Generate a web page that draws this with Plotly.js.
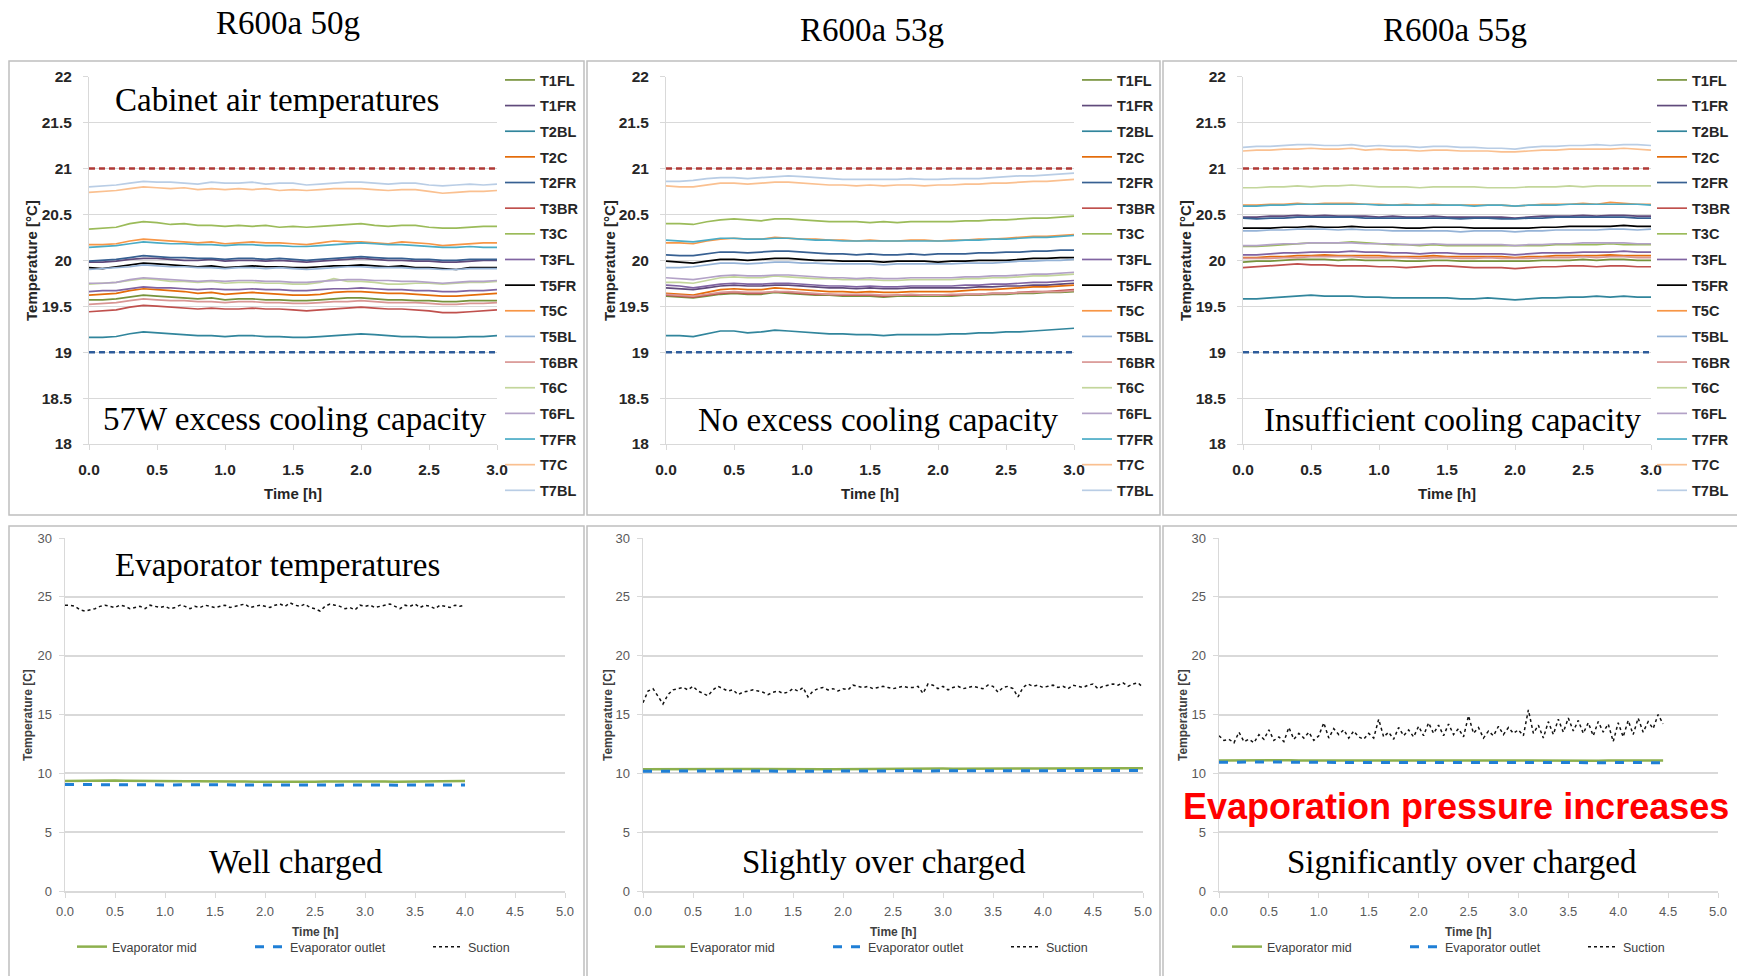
<!DOCTYPE html>
<html><head><meta charset="utf-8">
<script src="https://cdn.plot.ly/plotly-3.0.1.min.js"></script>
<style>html,body{margin:0;padding:0;background:#fff;overflow:hidden;width:1737px;height:976px}#wrap{width:1737px;height:976px;overflow:hidden;position:relative}#chart{width:1800px;height:976px}</style>
</head><body><div id="wrap"><div id="chart"></div></div>
<script>
// ---------- time grids ----------
const time01 = [0,0.1,0.2,0.3,0.4,0.5,0.6,0.7,0.8,0.9,1.0,1.1,1.2,1.3,1.4,1.5,1.6,1.7,1.8,1.9,2.0,2.1,2.2,2.3,2.4,2.5,2.6,2.7,2.8,2.9,3.0,3.1,3.2,3.3,3.4,3.5,3.6,3.7,3.8,3.9,4.0,4.1,4.2,4.3,4.4,4.5,4.6,4.7,4.8,4.9,5.0];
const time005 = [0,0.05,0.1,0.15,0.2,0.25,0.3,0.35,0.4,0.45,0.5,0.55,0.6,0.65,0.7,0.75,0.8,0.85,0.9,0.95,1.0,1.05,1.1,1.15,1.2,1.25,1.3,1.35,1.4,1.45,1.5,1.55,1.6,1.65,1.7,1.75,1.8,1.85,1.9,1.95,2.0,2.05,2.1,2.15,2.2,2.25,2.3,2.35,2.4,2.45,2.5,2.55,2.6,2.65,2.7,2.75,2.8,2.85,2.9,2.95,3.0,3.05,3.1,3.15,3.2,3.25,3.3,3.35,3.4,3.45,3.5,3.55,3.6,3.65,3.7,3.75,3.8,3.85,3.9,3.95,4.0,4.05,4.1,4.15,4.2,4.25,4.3,4.35,4.4,4.45,4.5,4.55,4.6,4.65,4.7,4.75,4.8,4.85,4.9,4.95,5.0];
const tTop = time01.slice(0,31);

// ---------- sensor names / colours ----------
const sensorNames = ['T1FL','T1FR','T2BL','T2C','T2FR','T3BR','T3C','T3FL','T5FR','T5C','T5BL','T6BR','T6C','T6FL','T7FR','T7C','T7BL'];
const sensorColors = ['#77933C','#604A7B','#31859C','#E46C0A','#376092','#C0504D','#9BBB59','#8064A2','#000000','#F79646','#95B3D7','#D99694','#C3D69B','#B3A2C7','#4BACC6','#FAC090','#B9CDE5'];

// ---------- R600a 50g cabinet air ----------
const p1_T1FL=[19.57,19.57,19.58,19.60,19.62,19.61,19.60,19.59,19.58,19.59,19.57,19.58,19.58,19.57,19.57,19.56,19.56,19.57,19.58,19.59,19.59,19.58,19.57,19.57,19.56,19.56,19.55,19.55,19.56,19.56,19.56];
const p1_T1FR=[19.98,19.98,19.99,20.01,20.02,20.02,20.01,20.00,20.00,20.01,19.99,20.00,20.00,19.99,20.00,19.99,19.98,19.99,20.00,20.01,20.02,20.01,20.00,20.00,19.99,19.99,19.98,19.98,19.99,20.00,20.00];
const p1_T2BL=[19.16,19.16,19.17,19.20,19.22,19.21,19.20,19.19,19.18,19.18,19.17,19.18,19.18,19.17,19.17,19.16,19.16,19.17,19.18,19.19,19.20,19.19,19.18,19.17,19.17,19.16,19.16,19.16,19.17,19.17,19.18];
const p1_T2C=[19.62,19.63,19.64,19.67,19.69,19.68,19.67,19.66,19.64,19.65,19.63,19.64,19.65,19.64,19.63,19.62,19.62,19.63,19.65,19.66,19.66,19.65,19.64,19.64,19.63,19.62,19.61,19.61,19.62,19.63,19.64];
const p1_T2FR=[19.99,20.00,20.01,20.03,20.05,20.04,20.03,20.03,20.02,20.02,20.01,20.02,20.02,20.01,20.02,20.01,20.00,20.01,20.02,20.03,20.04,20.03,20.02,20.02,20.01,20.01,20.00,20.00,20.01,20.01,20.01];
const p1_T3BR=[19.44,19.45,19.46,19.49,19.51,19.50,19.49,19.48,19.47,19.48,19.47,19.47,19.48,19.47,19.47,19.46,19.45,19.46,19.47,19.48,19.49,19.48,19.47,19.47,19.46,19.45,19.43,19.43,19.44,19.45,19.46];
const p1_T3C=[20.34,20.35,20.36,20.40,20.42,20.41,20.39,20.40,20.38,20.38,20.37,20.38,20.37,20.38,20.36,20.37,20.36,20.37,20.38,20.39,20.40,20.38,20.37,20.38,20.38,20.36,20.35,20.35,20.36,20.37,20.37];
const p1_T3FL=[19.66,19.67,19.67,19.69,19.71,19.70,19.70,19.69,19.68,19.69,19.68,19.68,19.69,19.68,19.68,19.67,19.67,19.68,19.69,19.69,19.70,19.69,19.68,19.68,19.67,19.67,19.66,19.66,19.67,19.67,19.68];
const p1_T5FR=[19.92,19.91,19.93,19.95,19.97,19.96,19.95,19.94,19.93,19.94,19.92,19.93,19.94,19.93,19.93,19.92,19.92,19.93,19.94,19.94,19.95,19.94,19.93,19.94,19.92,19.92,19.91,19.90,19.92,19.92,19.92];
const p1_T5C=[20.17,20.17,20.18,20.21,20.23,20.22,20.21,20.20,20.19,20.20,20.18,20.19,20.20,20.19,20.19,20.18,20.17,20.19,20.21,20.20,20.20,20.19,20.18,20.20,20.19,20.18,20.16,20.17,20.18,20.19,20.19];
const p1_T5BL=[19.90,19.91,19.92,19.93,19.95,19.94,19.93,19.93,19.92,19.92,19.91,19.92,19.92,19.91,19.92,19.91,19.90,19.91,19.92,19.93,19.93,19.92,19.92,19.92,19.91,19.91,19.90,19.90,19.91,19.91,19.91];
const p1_T6BR=[19.52,19.53,19.54,19.56,19.58,19.57,19.56,19.56,19.55,19.55,19.54,19.55,19.55,19.54,19.54,19.53,19.53,19.54,19.55,19.55,19.56,19.55,19.54,19.54,19.54,19.53,19.52,19.52,19.53,19.53,19.54];
const p1_T6C=[19.74,19.75,19.76,19.78,19.80,19.79,19.77,19.77,19.76,19.77,19.75,19.76,19.76,19.75,19.75,19.74,19.74,19.76,19.80,19.77,19.77,19.76,19.74,19.74,19.75,19.75,19.74,19.75,19.76,19.76,19.77];
const p1_T6FL=[19.75,19.75,19.76,19.79,19.81,19.80,19.79,19.78,19.77,19.78,19.77,19.78,19.78,19.77,19.77,19.76,19.76,19.77,19.78,19.79,19.79,19.78,19.78,19.77,19.77,19.76,19.75,19.76,19.77,19.77,19.78];
const p1_T7FR=[20.14,20.15,20.16,20.18,20.20,20.19,20.18,20.18,20.17,20.17,20.16,20.17,20.17,20.16,20.16,20.15,20.15,20.16,20.17,20.18,20.19,20.18,20.17,20.17,20.16,20.15,20.14,20.14,20.15,20.14,20.14];
const p1_T7C=[20.74,20.75,20.76,20.78,20.80,20.79,20.78,20.79,20.77,20.78,20.77,20.78,20.77,20.78,20.76,20.77,20.76,20.77,20.78,20.78,20.78,20.77,20.76,20.77,20.77,20.75,20.73,20.74,20.75,20.75,20.76];
const p1_T7BL=[20.80,20.81,20.82,20.84,20.86,20.85,20.85,20.84,20.83,20.85,20.84,20.84,20.85,20.83,20.84,20.84,20.82,20.83,20.84,20.85,20.85,20.84,20.83,20.84,20.84,20.82,20.81,20.82,20.83,20.82,20.83];

// ---------- R600a 53g cabinet air ----------
const p2_T1FL=[19.61,19.60,19.59,19.61,19.63,19.64,19.63,19.63,19.65,19.64,19.63,19.62,19.62,19.61,19.61,19.61,19.60,19.61,19.61,19.61,19.61,19.61,19.62,19.62,19.63,19.63,19.64,19.64,19.65,19.65,19.66];
const p2_T1FR=[19.70,19.69,19.68,19.70,19.72,19.73,19.72,19.72,19.73,19.73,19.72,19.71,19.70,19.70,19.69,19.70,19.69,19.69,19.70,19.70,19.70,19.70,19.70,19.71,19.71,19.72,19.72,19.73,19.73,19.74,19.75];
const p2_T2BL=[19.18,19.18,19.17,19.20,19.23,19.23,19.21,19.22,19.24,19.23,19.22,19.21,19.20,19.20,19.19,19.19,19.18,19.19,19.19,19.19,19.19,19.20,19.20,19.21,19.21,19.22,19.22,19.23,19.24,19.25,19.26];
const p2_T2C=[19.64,19.63,19.62,19.65,19.68,19.69,19.68,19.68,19.70,19.69,19.68,19.67,19.66,19.66,19.65,19.66,19.65,19.65,19.66,19.66,19.66,19.66,19.67,19.68,19.68,19.69,19.70,19.71,19.71,19.72,19.73];
const p2_T2FR=[20.06,20.05,20.05,20.07,20.09,20.09,20.08,20.09,20.10,20.10,20.09,20.08,20.07,20.07,20.06,20.07,20.06,20.06,20.07,20.06,20.07,20.07,20.07,20.08,20.08,20.09,20.09,20.10,20.10,20.11,20.11];
const p2_T3BR=[19.62,19.61,19.60,19.62,19.64,19.65,19.64,19.64,19.66,19.65,19.64,19.63,19.63,19.62,19.62,19.62,19.61,19.62,19.62,19.62,19.62,19.62,19.63,19.63,19.64,19.64,19.65,19.66,19.66,19.67,19.68];
const p2_T3C=[20.40,20.40,20.39,20.42,20.44,20.45,20.44,20.43,20.45,20.45,20.44,20.43,20.42,20.42,20.42,20.41,20.42,20.41,20.42,20.42,20.42,20.42,20.43,20.43,20.44,20.44,20.45,20.46,20.46,20.47,20.48];
const p2_T3FL=[19.73,19.72,19.70,19.72,19.74,19.75,19.74,19.74,19.75,19.75,19.74,19.73,19.72,19.72,19.71,19.72,19.71,19.71,19.72,19.72,19.72,19.72,19.73,19.73,19.74,19.74,19.75,19.76,19.76,19.77,19.78];
const p2_T5FR=[19.99,19.98,19.97,19.99,20.01,20.01,20.00,20.01,20.02,20.02,20.01,20.00,20.00,19.99,19.99,19.99,19.98,19.99,19.99,19.99,19.98,19.99,19.99,20.00,20.00,20.00,20.01,20.02,20.02,20.03,20.03];
const p2_T5C=[20.19,20.19,20.18,20.21,20.23,20.24,20.23,20.23,20.25,20.24,20.23,20.23,20.22,20.22,20.21,20.22,20.21,20.21,20.22,20.22,20.21,20.22,20.22,20.23,20.23,20.24,20.25,20.26,20.26,20.27,20.28];
const p2_T5BL=[19.92,19.92,19.93,19.95,19.97,19.97,19.96,19.97,19.98,19.98,19.97,19.97,19.96,19.96,19.96,19.96,19.95,19.96,19.96,19.96,19.96,19.96,19.97,19.97,19.97,19.98,19.99,19.99,20.00,20.00,20.01];
const p2_T6BR=[19.63,19.62,19.61,19.63,19.65,19.66,19.65,19.65,19.66,19.66,19.65,19.64,19.63,19.63,19.63,19.63,19.62,19.62,19.63,19.62,19.62,19.63,19.63,19.63,19.64,19.64,19.65,19.65,19.66,19.66,19.67];
const p2_T6C=[19.76,19.76,19.75,19.78,19.81,19.82,19.81,19.81,19.83,19.82,19.81,19.80,19.80,19.79,19.79,19.79,19.78,19.78,19.79,19.79,19.79,19.79,19.80,19.80,19.81,19.81,19.82,19.83,19.83,19.84,19.85];
const p2_T6FL=[19.81,19.80,19.79,19.81,19.83,19.84,19.83,19.83,19.84,19.84,19.83,19.82,19.81,19.81,19.80,19.81,19.80,19.80,19.81,19.81,19.81,19.81,19.82,19.82,19.83,19.83,19.84,19.85,19.85,19.86,19.87];
const p2_T7FR=[20.22,20.21,20.20,20.22,20.24,20.24,20.23,20.23,20.24,20.24,20.23,20.22,20.22,20.21,20.21,20.21,20.21,20.21,20.21,20.21,20.21,20.21,20.22,20.22,20.23,20.23,20.24,20.25,20.25,20.26,20.27];
const p2_T7C=[20.81,20.80,20.80,20.82,20.84,20.84,20.83,20.84,20.85,20.85,20.84,20.83,20.82,20.82,20.81,20.82,20.81,20.82,20.82,20.81,20.82,20.82,20.83,20.83,20.84,20.84,20.85,20.86,20.86,20.87,20.88];
const p2_T7BL=[20.86,20.86,20.87,20.89,20.90,20.90,20.89,20.90,20.91,20.92,20.91,20.90,20.89,20.88,20.88,20.88,20.88,20.88,20.89,20.88,20.88,20.89,20.89,20.89,20.90,20.91,20.92,20.92,20.93,20.94,20.95];

// ---------- R600a 55g cabinet air ----------
const p3_T1FL=[19.98,19.99,19.99,20.00,20.01,20.01,20.01,20.00,20.01,20.00,20.00,20.00,19.99,19.99,20.00,20.00,19.99,19.99,19.99,19.99,19.99,19.99,20.00,20.00,20.00,20.01,20.00,20.01,20.01,20.00,20.00];
const p3_T1FR=[20.47,20.47,20.48,20.48,20.49,20.48,20.49,20.48,20.48,20.48,20.47,20.48,20.47,20.47,20.48,20.47,20.47,20.47,20.47,20.47,20.46,20.47,20.48,20.48,20.48,20.49,20.48,20.49,20.49,20.48,20.48];
const p3_T2BL=[19.58,19.58,19.59,19.60,19.61,19.62,19.61,19.61,19.61,19.60,19.60,19.59,19.59,19.59,19.59,19.59,19.58,19.58,19.59,19.58,19.57,19.58,19.59,19.59,19.60,19.60,19.61,19.60,19.61,19.60,19.60];
const p3_T2C=[20.03,20.03,20.04,20.04,20.05,20.05,20.06,20.05,20.05,20.05,20.05,20.04,20.04,20.04,20.05,20.04,20.04,20.04,20.04,20.04,20.03,20.04,20.04,20.05,20.05,20.05,20.05,20.06,20.05,20.05,20.05];
const p3_T2FR=[20.46,20.45,20.46,20.46,20.47,20.47,20.47,20.47,20.47,20.46,20.46,20.46,20.46,20.46,20.46,20.46,20.45,20.46,20.46,20.45,20.45,20.46,20.46,20.47,20.47,20.47,20.47,20.47,20.47,20.46,20.46];
const p3_T3BR=[19.92,19.93,19.94,19.95,19.96,19.95,19.95,19.94,19.94,19.94,19.93,19.93,19.92,19.93,19.94,19.94,19.93,19.92,19.92,19.92,19.91,19.92,19.93,19.93,19.94,19.94,19.93,19.94,19.94,19.93,19.93];
const p3_T3C=[20.15,20.15,20.16,20.17,20.18,20.19,20.19,20.19,20.20,20.19,20.18,20.17,20.17,20.16,20.17,20.16,20.16,20.16,20.16,20.16,20.16,20.16,20.16,20.17,20.17,20.17,20.17,20.18,20.17,20.17,20.17];
const p3_T3FL=[20.06,20.06,20.07,20.08,20.08,20.09,20.09,20.09,20.10,20.09,20.09,20.08,20.08,20.07,20.08,20.08,20.07,20.07,20.07,20.07,20.06,20.07,20.08,20.08,20.08,20.09,20.09,20.09,20.10,20.09,20.09];
const p3_T5FR=[20.35,20.35,20.35,20.36,20.36,20.37,20.36,20.36,20.37,20.36,20.36,20.36,20.35,20.35,20.36,20.36,20.36,20.35,20.35,20.35,20.35,20.35,20.36,20.36,20.37,20.37,20.37,20.37,20.38,20.37,20.37];
const p3_T5C=[20.60,20.60,20.61,20.61,20.62,20.61,20.62,20.62,20.62,20.61,20.61,20.60,20.61,20.60,20.61,20.60,20.60,20.60,20.60,20.60,20.59,20.60,20.61,20.61,20.61,20.62,20.61,20.63,20.62,20.61,20.61];
const p3_T5BL=[20.32,20.32,20.33,20.33,20.34,20.34,20.34,20.33,20.34,20.33,20.33,20.32,20.32,20.32,20.32,20.32,20.31,20.32,20.32,20.32,20.31,20.32,20.32,20.33,20.33,20.33,20.33,20.34,20.34,20.33,20.34];
const p3_T6BR=[20.02,20.02,20.02,20.03,20.03,20.04,20.04,20.04,20.04,20.03,20.03,20.03,20.03,20.02,20.03,20.03,20.02,20.02,20.03,20.02,20.02,20.02,20.03,20.03,20.03,20.04,20.03,20.04,20.04,20.03,20.03];
const p3_T6C=[20.79,20.79,20.80,20.80,20.81,20.80,20.81,20.81,20.82,20.81,20.80,20.80,20.80,20.79,20.80,20.80,20.80,20.80,20.79,20.79,20.79,20.80,20.80,20.80,20.81,20.80,20.81,20.81,20.81,20.81,20.81];
const p3_T6FL=[20.16,20.16,20.17,20.18,20.18,20.19,20.19,20.19,20.19,20.18,20.18,20.18,20.17,20.17,20.18,20.17,20.17,20.17,20.17,20.17,20.16,20.17,20.17,20.18,20.18,20.19,20.19,20.19,20.19,20.18,20.18];
const p3_T7FR=[20.59,20.59,20.60,20.60,20.61,20.61,20.61,20.61,20.61,20.61,20.60,20.60,20.60,20.60,20.60,20.60,20.60,20.59,20.60,20.60,20.59,20.60,20.60,20.60,20.61,20.61,20.61,20.61,20.61,20.61,20.60];
const p3_T7C=[21.19,21.20,21.20,21.21,21.21,21.22,21.21,21.21,21.22,21.20,21.21,21.20,21.20,21.19,21.20,21.20,21.19,21.19,21.19,21.18,21.18,21.19,21.20,21.20,21.21,21.21,21.21,21.21,21.22,21.21,21.20];
const p3_T7BL=[21.23,21.24,21.24,21.25,21.26,21.26,21.25,21.25,21.26,21.24,21.25,21.24,21.24,21.23,21.24,21.24,21.23,21.23,21.22,21.22,21.21,21.23,21.24,21.24,21.25,21.25,21.26,21.25,21.26,21.26,21.25];

// ---------- set-point band ----------
const limitTime = [0, 3];
const limitHigh = [21, 21];
const limitLow = [19, 19];

// ---------- evaporator: well charged (50 g) ----------
const e1_mid=[9.35,9.37,9.38,9.40,9.42,9.40,9.38,9.36,9.35,9.33,9.34,9.33,9.32,9.33,9.34,9.32,9.30,9.31,9.30,9.29,9.30,9.31,9.32,9.30,9.29,9.28,9.30,9.31,9.30,9.30,9.31,9.32,9.30,9.29,9.30,9.31,9.30,9.29,9.30,9.31,9.35];
const e1_out=[9.05,9.06,9.07,9.05,9.06,9.04,9.03,9.05,9.04,9.03,9.02,9.03,9.04,9.02,9.01,9.02,9.03,9.01,9.00,9.01,9.02,9.01,9.00,9.01,9.02,9.00,8.99,9.00,9.01,9.00,9.01,9.02,9.00,8.99,9.00,9.01,9.00,8.99,9.00,9.00,9.02];
const e1_suc=[24.3,24.3,24.2,23.9,23.8,23.9,24.0,24.2,24.3,24.2,24.1,24.3,24.2,24.0,24.1,24.2,24.0,24.3,24.2,24.1,
24.2,24.0,24.1,24.3,24.2,24.0,24.2,24.1,24.3,24.2,24.1,24.2,24.3,24.1,24.2,24.3,24.4,24.1,24.2,24.3,
24.2,24.1,24.3,24.4,24.2,24.5,24.3,24.2,24.4,24.1,24.0,23.8,24.2,24.4,24.3,24.2,24.0,24.1,23.9,24.3,
24.2,24.3,24.1,24.2,24.3,24.4,24.2,24.0,24.3,24.2,24.4,24.1,24.3,24.2,24.0,24.3,24.2,24.1,24.3,24.2,24.3];

// ---------- evaporator: slightly over charged (53 g) ----------
const e2_mid=[10.35,10.36,10.37,10.36,10.38,10.37,10.36,10.38,10.39,10.38,10.37,10.36,10.37,10.38,10.37,10.36,10.37,10.36,10.35,10.36,10.37,10.38,10.37,10.38,10.39,10.38,10.39,10.40,10.39,10.40,10.41,10.40,10.41,10.42,10.41,10.40,10.41,10.40,10.41,10.42,10.41,10.42,10.41,10.42,10.43,10.42,10.43,10.42,10.43,10.44,10.43];
const e2_out=[10.18,10.19,10.20,10.19,10.21,10.20,10.19,10.21,10.22,10.21,10.20,10.19,10.20,10.21,10.20,10.19,10.18,10.19,10.18,10.19,10.20,10.21,10.20,10.21,10.22,10.21,10.22,10.22,10.21,10.22,10.23,10.22,10.23,10.24,10.23,10.22,10.23,10.22,10.23,10.24,10.23,10.24,10.23,10.24,10.25,10.24,10.25,10.24,10.25,10.26,10.25];
const e2_suc=[16.0,17.0,17.2,16.5,15.9,16.7,17.1,17.2,17.3,17.1,17.4,17.0,16.8,16.6,17.1,17.4,17.2,17.0,17.1,16.7,
16.9,17.0,17.1,17.0,16.9,16.7,16.9,17.0,16.8,16.9,17.2,17.0,17.3,16.5,17.0,17.2,17.3,17.1,17.2,17.0,
17.2,17.1,17.5,17.4,17.3,17.4,17.2,17.3,17.4,17.3,17.2,17.3,17.4,17.3,17.3,17.4,16.8,17.6,17.5,17.2,
17.4,17.1,17.3,17.4,17.2,17.3,17.4,17.3,17.2,17.5,17.4,16.9,17.3,17.4,17.2,16.5,17.3,17.6,17.4,17.5,
17.3,17.4,17.5,17.3,17.4,17.2,17.5,17.4,17.3,17.5,17.6,17.2,17.4,17.5,17.6,17.5,17.7,17.4,17.6,17.7,17.3];

// ---------- evaporator: significantly over charged (55 g) ----------
const t6_main = time01.slice(0,45).concat([4.45]);
const e3_mid=[11.10,11.11,11.12,11.11,11.12,11.13,11.12,11.11,11.10,11.11,11.10,11.09,11.10,11.11,11.10,11.09,11.10,11.09,11.10,11.11,11.10,11.09,11.10,11.09,11.10,11.11,11.10,11.09,11.08,11.09,11.10,11.09,11.08,11.09,11.10,11.09,11.08,11.09,11.08,11.09,11.10,11.09,11.08,11.09,11.10,11.09];
const e3_out=[10.95,10.96,10.95,10.96,10.97,10.98,10.97,10.95,10.94,10.95,10.94,10.93,10.94,10.95,10.94,10.93,10.92,10.93,10.94,10.93,10.92,10.93,10.94,10.93,10.92,10.93,10.94,10.93,10.92,10.91,10.92,10.93,10.92,10.91,10.92,10.93,10.92,10.91,10.92,10.91,10.92,10.93,10.92,10.91,10.92,10.91];
const e3_suc=[13.2,12.8,12.9,12.6,13.5,12.7,12.9,12.6,13.3,12.9,13.7,12.8,13.1,12.7,13.9,12.9,13.4,13.0,13.5,12.8,
13.2,14.3,13.0,13.8,13.3,13.7,13.0,13.6,13.1,12.9,13.4,13.0,14.6,13.1,13.5,12.9,13.9,13.2,13.7,13.1,
14.0,13.2,14.3,13.4,14.1,13.2,14.2,13.3,13.8,13.1,14.9,13.4,13.9,13.0,13.6,13.2,14.0,13.3,13.9,13.4,
13.7,13.2,15.4,13.4,14.1,13.0,14.4,13.3,14.6,13.5,14.7,13.6,14.5,13.4,14.3,13.2,14.4,13.5,14.2,12.7,
14.3,13.1,14.5,13.3,14.7,13.5,14.4,13.8,15.0,14.2];

const evapNames = ['Evaporator mid','Evaporator outlet','Suction'];

// ---------- helpers ----------
const W = 1800, H = 976;   // figure is a little wider than the 1737px view; right part is clipped like the original
const px = v => v / W;
const py = v => 1 - v / H;
const SANS = 'Liberation Sans, Arial, sans-serif';
const SERIF = 'Liberation Serif, Times New Roman, serif';

const topPanels = [
  [p1_T1FL,p1_T1FR,p1_T2BL,p1_T2C,p1_T2FR,p1_T3BR,p1_T3C,p1_T3FL,p1_T5FR,p1_T5C,p1_T5BL,p1_T6BR,p1_T6C,p1_T6FL,p1_T7FR,p1_T7C,p1_T7BL],
  [p2_T1FL,p2_T1FR,p2_T2BL,p2_T2C,p2_T2FR,p2_T3BR,p2_T3C,p2_T3FL,p2_T5FR,p2_T5C,p2_T5BL,p2_T6BR,p2_T6C,p2_T6FL,p2_T7FR,p2_T7C,p2_T7BL],
  [p3_T1FL,p3_T1FR,p3_T2BL,p3_T2C,p3_T2FR,p3_T3BR,p3_T3C,p3_T3FL,p3_T5FR,p3_T5C,p3_T5BL,p3_T6BR,p3_T6C,p3_T6FL,p3_T7FR,p3_T7C,p3_T7BL]
];
const evapPanels = [
  {t: time01.slice(0,41), ts: time005.slice(0,81), mid: e1_mid, out: e1_out, suc: e1_suc},
  {t: time01, ts: time005, mid: e2_mid, out: e2_out, suc: e2_suc},
  {t: t6_main, ts: time005.slice(0,90), mid: e3_mid, out: e3_out, suc: e3_suc}
];

const traces = [];
topPanels.forEach((series, p) => {
  const n = p + 1;
  const xa = n === 1 ? 'x' : 'x' + n, ya = n === 1 ? 'y' : 'y' + n;
  const lg = n === 1 ? 'legend' : 'legend' + n;
  series.forEach((vals, i) => {
    traces.push({type:'scatter', mode:'lines', x: tTop, y: vals, xaxis: xa, yaxis: ya,
      name: sensorNames[i], legend: lg, legendgroup: 'g' + n + '_' + i,
      line: {color: sensorColors[i], width: 1.7}});
  });
  traces.push({type:'scatter', mode:'lines', x: limitTime, y: limitHigh, xaxis: xa, yaxis: ya, showlegend:false,
    line:{color:'#B03A36', width:2.5, dash:'6px,4px'}});
  traces.push({type:'scatter', mode:'lines', x: limitTime, y: limitLow, xaxis: xa, yaxis: ya, showlegend:false,
    line:{color:'#2E5C9A', width:2.5, dash:'6px,4px'}});
});
evapPanels.forEach((d, p) => {
  const n = p + 4;
  const xa = 'x' + n, ya = 'y' + n, lg = 'legend' + n;
  traces.push({type:'scatter', mode:'lines', x: d.t, y: d.mid, xaxis: xa, yaxis: ya, name: evapNames[0], legend: lg,
    line:{color:'#8DB04E', width:2.5}});
  traces.push({type:'scatter', mode:'lines', x: d.t, y: d.out, xaxis: xa, yaxis: ya, name: evapNames[1], legend: lg,
    line:{color:'#1F7FD6', width:3, dash:'dash'}});
  traces.push({type:'scatter', mode:'lines', x: d.ts, y: d.suc, xaxis: xa, yaxis: ya, name: evapNames[2], legend: lg,
    line:{color:'#111111', width:1.5, dash:'dot'}});
});

// ---------- axes ----------
const layout = {
  width: W, height: H, margin: {l:0, r:0, t:0, b:0}, paper_bgcolor:'#fff', plot_bgcolor:'#fff',
  font: {family: SANS, color:'#262626'}, showlegend: true,
  annotations: [], shapes: []
};
const topX = [[89,497],[666,1074],[1243,1651]];
const botX = [[65,565],[643,1143],[1219,1718]];
topX.forEach((r, p) => {
  const n = p + 1, sfx = n === 1 ? '' : n;
  layout['xaxis' + sfx] = {domain:[px(r[0]), px(r[1])], anchor: 'y' + sfx, range:[0,3], dtick:0.5, tick0:0,
    tickformat:'.1f', showgrid:false, zeroline:false, showline:true, linecolor:'#D9D9D9', linewidth:1,
    ticks:'outside', ticklen:5, tickcolor:'#D9D9D9', ticklabelstandoff:6,
    tickfont:{family:SANS, size:15.5, weight:'bold', color:'#262626'}};
  layout['yaxis' + sfx] = {domain:[py(444), py(76.5)], anchor: 'x' + sfx, range:[18,22.001], dtick:0.5, tick0:18,
    showgrid:true, gridcolor:'#D9D9D9', gridwidth:1, zeroline:false, showline:true, linecolor:'#D9D9D9',
    ticks:'outside', ticklen:5, tickcolor:'#D9D9D9', ticklabelstandoff:8,
    tickfont:{family:SANS, size:15.5, weight:'bold', color:'#262626'}};
});
botX.forEach((r, p) => {
  const n = p + 4;
  layout['xaxis' + n] = {domain:[px(r[0]), px(r[1])], anchor: 'y' + n, range:[0,5], dtick:0.5, tick0:0,
    tickformat:'.1f', showgrid:false, zeroline:false, showline:true, linecolor:'#D9D9D9', linewidth:1.5,
    ticks:'outside', ticklen:5, tickcolor:'#D9D9D9', ticklabelstandoff:3,
    tickfont:{family:SANS, size:13, color:'#595959'}};
  layout['yaxis' + n] = {domain:[py(891), py(538)], anchor: 'x' + n, range:[0,30.01], dtick:5, tick0:0,
    showgrid:true, gridcolor:'#D9D9D9', gridwidth:2, zeroline:false, showline:true, linecolor:'#D9D9D9', linewidth:1.5,
    ticks:'outside', ticklen:5, tickcolor:'#D9D9D9', ticklabelstandoff:4,
    tickfont:{family:SANS, size:13, color:'#595959'}};
});

// ---------- legends ----------
const topLegendX = [500, 1077, 1652];
topLegendX.forEach((lx, p) => {
  const key = p === 0 ? 'legend' : 'legend' + (p + 1);
  layout[key] = {x: px(lx), xanchor:'left', y: py(64), yanchor:'top', bgcolor:'rgba(0,0,0,0)',
    orientation:'v', traceorder:'grouped', tracegroupgap:3.8,
    font:{family:SANS, size:14.5, weight:'bold', color:'#262626'}};
});
const botLegendX = [72, 650, 1227];
botLegendX.forEach((lx, p) => {
  const key = 'legend' + (p + 4);
  layout[key] = {x: px(lx), xanchor:'left', y: py(947), yanchor:'middle', bgcolor:'rgba(0,0,0,0)',
    orientation:'h', entrywidth:133, entrywidthmode:'pixels',
    font:{family:SANS, size:12.5, color:'#404040'}};
});

// ---------- panel frames ----------
const frames = [[9,584,61,515],[587,1160,61,515],[1163,1760,61,515],[9,584,526,990],[587,1160,526,990],[1163,1760,526,990]];
frames.forEach(f => layout.shapes.push({type:'rect', xref:'paper', yref:'paper', x0:px(f[0]), x1:px(f[1]), y0:py(f[3]), y1:py(f[2]),
  line:{color:'#BFBFBF', width:1.5}, fillcolor:'rgba(0,0,0,0)', layer:'below'}));

// ---------- text ----------
function ann(text, x, y, font, extra) {
  layout.annotations.push(Object.assign({text, xref:'paper', yref:'paper', x:px(x), y:py(y), xanchor:'center', yanchor:'middle',
    showarrow:false, font}, extra || {}));
}
const titleFont = {family:SERIF, size:33, color:'#000'};
ann('R600a 50g', 288, 23, titleFont);
ann('R600a 53g', 872, 30, titleFont);
ann('R600a 55g', 1455, 30, titleFont);
const inner = {family:SERIF, size:33, color:'#000'};
ann('Cabinet air temperatures', 277, 100, inner);
ann('57W excess cooling capacity', 295, 419, inner);
ann('No excess cooling capacity', 878, 420, inner);
ann('Insufficient cooling capacity', 1452, 420, inner);
ann('Evaporator temperatures', 277, 565, inner);
ann('Well charged', 296, 862, inner);
ann('Slightly over charged', 884, 862, inner);
ann('Significantly over charged', 1462, 862, inner);
ann('Evaporation pressure increases', 1181, 806, {family:SANS, size:36, weight:'bold', color:'#FF0000'}, {xanchor:'left'});

const axTitleTop = {family:SANS, size:15, weight:'bold', color:'#262626'};
[[31,261],[609,261],[1185,261]].forEach(p => ann('Temperature [°C]', p[0], p[1], axTitleTop, {textangle:-90}));
[[293,493],[870,493],[1447,493]].forEach(p => ann('Time [h]', p[0], p[1], axTitleTop));
const axTitleBot = {family:SANS, size:12, weight:'bold', color:'#404040'};
[[28,715],[608,715],[1183,715]].forEach(p => ann('Temperature [C]', p[0], p[1], axTitleBot, {textangle:-90}));
[[315,932],[893,932],[1468,932]].forEach(p => ann('Time [h]', p[0], p[1], axTitleBot));

Plotly.newPlot('chart', traces, layout, {staticPlot:true, displayModeBar:false});
</script></body></html>
